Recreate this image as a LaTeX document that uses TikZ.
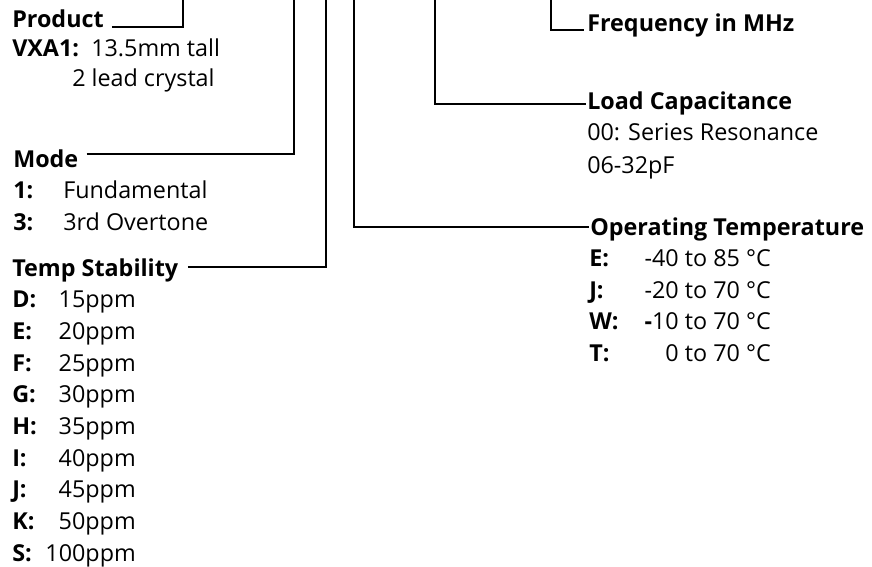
\documentclass[tikz,border=0pt]{standalone}
\usepackage{fontspec}
\setmainfont{Open Sans}
\usetikzlibrary{positioning}
\newcommand\partsize{\fontsize{17.5}{20}\selectfont}
\tikzset{
  head/.style={anchor=base west, inner sep=0pt, font=\partsize\bfseries},
  key/.style={anchor=base west, inner sep=0pt, font=\partsize\bfseries},
  val/.style={anchor=base west, inner sep=0pt, font=\partsize},
  valr/.style={anchor=base east, inner sep=0pt, font=\partsize},
  lead/.style={draw=black, line width=1.6pt}
}

\begin{document}
\begin{tikzpicture}[x=0.75pt, y=-0.75pt]
  \useasboundingbox (0,0) rectangle (872,567);

  % upper ends of the leads
  \coordinate (tprod) at (183,0);
  \coordinate (tmode) at (294,0);
  \coordinate (tstab) at (326,0);
  \coordinate (toper) at (354,0);
  \coordinate (tload) at (435,0);
  \coordinate (tfreq) at (551,0);

  % left column
  \node[head] (product) at (12,28) {Product};
  \node[key] (vxa) at (12,57) {VXA1:};
  \node[val] (tall) at (91,57) {13.5mm tall};
  \node[val] (crystal) at (72,87) {2 lead crystal};

  \node[head] (mode) at (13,167) {Mode};
  \node[key] (m1) at (13,198) {1:};
  \node[val] (m1v) at (63,198) {Fundamental};
  \node[key] (m3) at (13,230) {3:};
  \node[val] (m3v) at (63,230) {3rd Overtone};

  \node[head] (stab) at (12,276) {Temp Stability};
  \foreach \k/\v [count=\i] in {D/15ppm,E/20ppm,F/25ppm,G/30ppm,H/35ppm,I/40ppm,J/45ppm,K/50ppm,S/100ppm}{
    \node[key] (s\i) at (12,276+31.7*\i) {\k:};
    \node[valr] (sv\i) at (136,276+31.7*\i) {\v};
  }

  % right column
  \node[head] (freq) at (587,32) {Frequency in MHz};
  \node[head] (load) at (587,109) {Load Capacitance};
  \node[val] (l00) at (587,141) {00: Series Resonance};
  \node[val] (lpf) at (587,173) {06-32pF};

  \node[head] (oper) at (590,235) {Operating Temperature};
  \foreach \k/\v [count=\i] in {E/-40 to 85 °C,J/-20 to 70 °C,W/{\textbf{-}10 to 70 °C},T/0 to 70 °C}{
    \node[key] (o\i) at (589,235+31.5*\i) {\k:};
    \node[valr] (ov\i) at (771,235+31.5*\i) {\v};
  }

  % leads
  \draw[lead] ([xshift=6pt,yshift=0.5pt]product.base east) -| (tprod);
  \draw[lead] ([xshift=6pt,yshift=10pt]mode.base east) -| (tmode);
  \draw[lead] ([xshift=7pt,yshift=7pt]stab.base east) -| (tstab);
  \draw[lead] (toper) |- ([xshift=-1pt,yshift=6pt]oper.base west);
  \draw[lead] (tload) |- ([xshift=-1pt,yshift=4pt]load.base west);
  \draw[lead] (tfreq) |- ([xshift=-2pt,yshift=1.5pt]freq.base west);
\end{tikzpicture}
\end{document}
